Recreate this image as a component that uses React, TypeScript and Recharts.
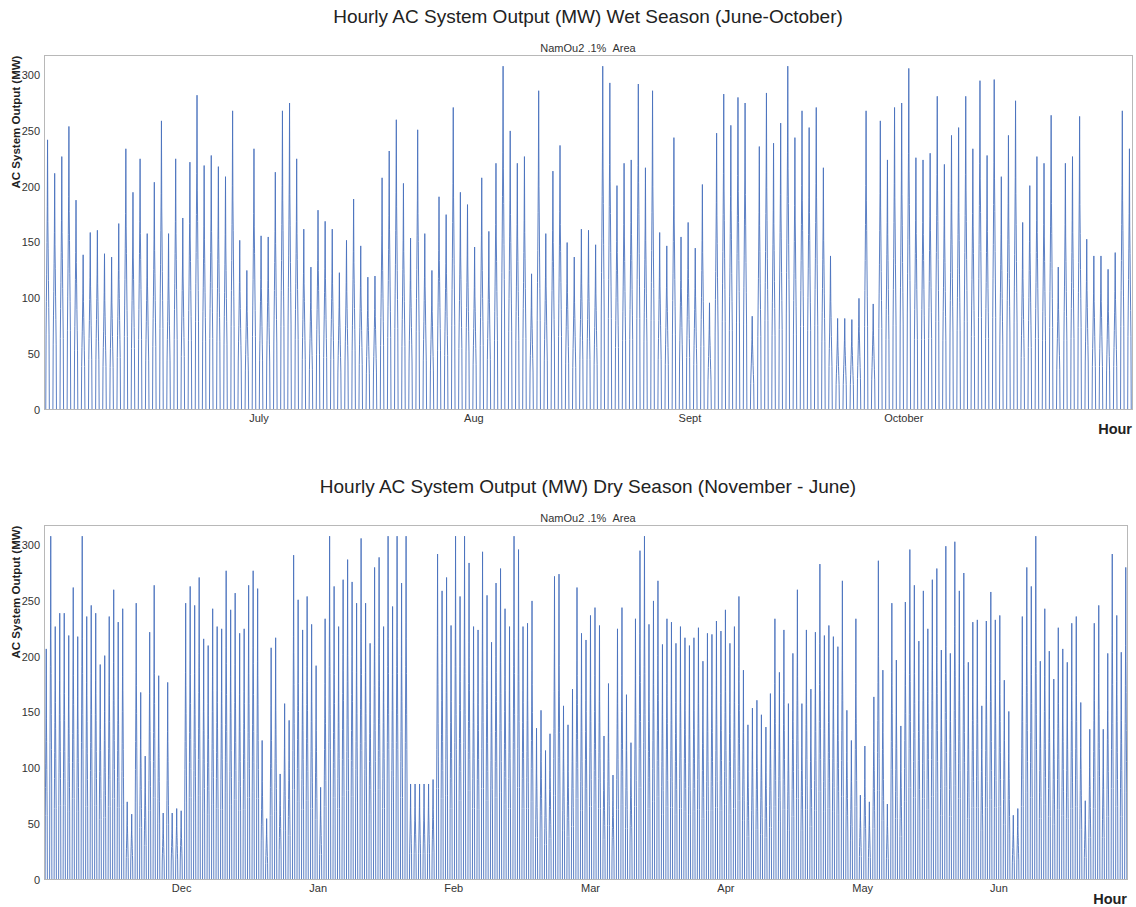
import React from 'react';
import { LineChart, Line, XAxis, YAxis } from 'recharts';

// Daily peak output (MW), one value per day
const WET_PEAKS = [
  242, 212, 227, 254, 188, 139, 159, 161, 140, 137, 167, 234, 195, 225, 158, 204, 259, 158, 225, 172, 222, 282, 219, 228, 218, 209,
  268, 152, 125, 234, 156, 155, 213, 268, 275, 225, 162, 128, 179, 169, 162, 123, 152, 189, 147, 119, 120, 208, 232, 260, 203,
  154, 251, 158, 125, 191, 175, 271, 195, 184, 146, 208, 160, 221, 308, 250, 221, 227, 122, 286, 158, 214, 237, 150, 137, 162,
  161, 148, 308, 293, 201, 221, 224, 292, 217, 286, 159, 147, 244, 155, 168, 145, 202, 96, 248, 283, 255, 280, 275, 84, 236, 284,
  239, 257, 308, 244, 268, 253, 271, 217, 138, 82, 82, 81, 100, 268, 95, 259, 224, 271, 275, 306, 226, 224, 230, 281, 220,
  246, 253, 281, 234, 295, 228, 296, 209, 246, 277, 168, 201, 227, 221, 264, 128, 221, 227, 263, 153, 138, 138, 126, 141, 268, 234,
];

const DRY_PEAKS = [
  207, 308, 227, 239, 239, 219, 262, 218, 308, 236, 246, 239, 193, 201, 236, 260, 231, 243, 70, 59, 248, 168, 111, 222, 264, 183, 60, 177, 60, 64, 62, 248, 263, 246, 271, 216, 210, 243, 227, 225,
  277, 242, 257, 221, 225, 264, 277, 261, 125, 55, 208, 217, 95, 158, 143, 291, 251, 224, 254, 229, 192, 83, 234, 308, 263, 227, 269, 287, 267, 248, 306, 248, 212, 280, 289, 227, 308, 245, 308, 266,
  308, 86, 86, 86, 86, 86, 90, 292, 259, 271, 228, 308, 254, 308, 284, 227, 224, 294, 255, 213, 266, 279, 243, 227, 308, 296, 227, 230, 250, 136, 152, 116, 131, 272, 274, 156, 139, 171, 262, 221,
  215, 237, 244, 228, 129, 176, 94, 225, 244, 166, 123, 234, 295, 308, 229, 250, 268, 211, 234, 231, 212, 227, 217, 210, 217, 226, 196, 221, 220, 232, 223, 242, 212, 227, 254, 188, 139, 154, 161, 148, 137,
  167, 234, 186, 224, 158, 203, 260, 158, 224, 171, 222, 283, 219, 228, 218, 209, 268, 152, 125, 234, 76, 120, 70, 164, 286, 188, 68, 248, 197, 138, 249, 296, 264, 214, 259, 225, 269, 279,
  206, 299, 203, 303, 259, 275, 195, 231, 233, 156, 232, 258, 233, 237, 179, 151, 58, 64, 236, 280, 263, 308, 196, 243, 205, 180, 226, 207, 195, 230, 236, 159, 71, 135, 230, 246, 135, 203, 292, 237, 204, 280,
];

// Typical daylight-hour shape of a day (fraction of that day's peak)
const DAY_HOURS = [6, 7, 8, 9, 10, 11, 12, 13, 14, 15, 16, 17, 18];
const DAY_SHAPE = [0, 0.28, 0.4, 0.5, 0.62, 0.75, 1, 0.7, 0.6, 0.48, 0.38, 0.28, 0];

const WET_TICKS = [30.2, 60.4, 90.75, 120.8];
const WET_TICK_LABELS = ['July', 'Aug', 'Sept', 'October'];
const DRY_TICKS = [30.6, 60.95, 91.1, 121.5, 151.6, 182, 212.3];
const DRY_TICK_LABELS = ['Dec', 'Jan', 'Feb', 'Mar', 'Apr', 'May', 'Jun'];
const Y_TICKS = [0, 50, 100, 150, 200, 250, 300];

const FONT = '"Liberation Sans", Arial, sans-serif';
const LINE_COLOR = '#4a72bd';

function buildHourly(peaks: number[]) {
  const rows: { x: number; y: number }[] = [{ x: 0, y: 0 }];
  peaks.forEach((p, d) => {
    DAY_HOURS.forEach((h, i) => {
      rows.push({ x: d + h / 24, y: Math.round(p * DAY_SHAPE[i]) });
    });
  });
  rows.push({ x: peaks.length, y: 0 });
  return rows;
}

type PanelProps = {
  top: number;
  title: string;
  peaks: number[];
  ticks: number[];
  tickLabels: string[];
  rightMargin: number;
};

function Panel({ top, title, peaks, ticks, tickLabels, rightMargin }: PanelProps) {
  const data = buildHourly(peaks);
  const W = 1136;
  const H = 450;
  const mTop = 55;
  const plotLeft = 44;
  const plotBottom = 410;
  return (
    <div style={{ position: 'absolute', left: 0, top, width: W, height: H }}>
      <div style={{ position: 'absolute', left: 0, width: 1176, top: 6, textAlign: 'center', fontSize: 19, color: '#222', fontFamily: FONT }}>
        {title}
      </div>
      <div style={{ position: 'absolute', left: 0, width: 1176, top: 42, textAlign: 'center', fontSize: 11, color: '#333', fontFamily: FONT }}>
        NamOu2 .1%&nbsp;&nbsp;Area
      </div>
      <div style={{ position: 'absolute', left: 10, top: 122, width: 0, height: 0 }}>
        <div style={{ position: 'absolute', transform: 'translate(-50%, -50%) rotate(-90deg)', whiteSpace: 'nowrap', fontSize: 11.5, fontWeight: 'bold', color: '#222', fontFamily: FONT, left: 6, top: 0 }}>
          AC System Output (MW)
        </div>
      </div>
      <LineChart width={W} height={H} data={data} margin={{ top: mTop, right: rightMargin, left: 0, bottom: 10 }}>
        <XAxis
          dataKey="x"
          type="number"
          domain={[0, peaks.length]}
          ticks={ticks}
          interval={0}
          tickFormatter={(v: number) => tickLabels[ticks.indexOf(v)] ?? ''}
          axisLine={false}
          tickLine={false}
          tickSize={0}
          tickMargin={4}
          height={30}
          tick={{ fontSize: 11, fill: '#333', fontFamily: FONT }}
        />
        <YAxis
          type="number"
          domain={[0, 318]}
          ticks={Y_TICKS}
          interval={0}
          allowDataOverflow
          axisLine={false}
          tickLine={false}
          tickSize={0}
          tickMargin={4}
          width={plotLeft}
          tick={{ fontSize: 11, fill: '#333', fontFamily: FONT }}
        />
        <Line
          type="linear"
          dataKey="y"
          stroke={LINE_COLOR}
          strokeWidth={0.9}
          dot={false}
          activeDot={false}
          isAnimationActive={false}
        />
      </LineChart>
      <div
        style={{
          position: 'absolute',
          left: plotLeft,
          top: mTop,
          width: W - rightMargin - plotLeft,
          height: plotBottom - mTop,
          border: '1px solid #b8b8b8',
          boxSizing: 'border-box',
          pointerEvents: 'none',
        }}
      />
      <div style={{ position: 'absolute', right: W - (W - rightMargin) + 1, top: 421, fontSize: 14.5, fontWeight: 'bold', color: '#222', fontFamily: FONT }}>
        Hour
      </div>
    </div>
  );
}

export default function App() {
  return (
    <div style={{ position: 'absolute', left: 0, top: 0, width: 1136, height: 907, background: '#fff', overflow: 'hidden' }}>
      <Panel
        top={0}
        title="Hourly AC System Output (MW) Wet Season (June-October)"
        peaks={WET_PEAKS}
        ticks={WET_TICKS}
        tickLabels={WET_TICK_LABELS}
        rightMargin={3}
      />
      <Panel
        top={470}
        title="Hourly AC System Output (MW) Dry Season (November - June)"
        peaks={DRY_PEAKS}
        ticks={DRY_TICKS}
        tickLabels={DRY_TICK_LABELS}
        rightMargin={8}
      />
    </div>
  );
}
